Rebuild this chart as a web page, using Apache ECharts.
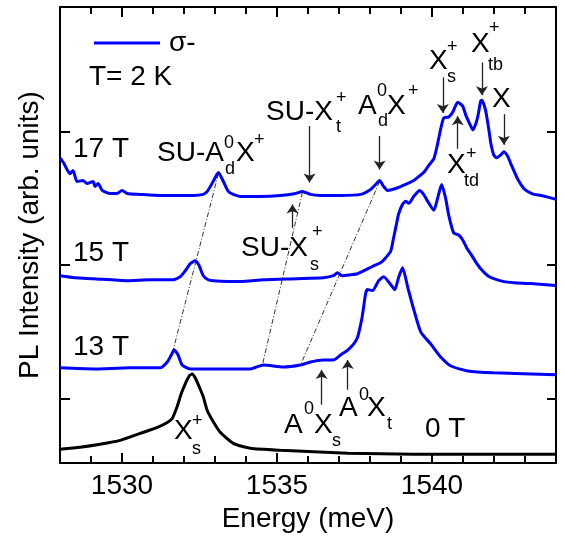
<!DOCTYPE html>
<html><head><meta charset="utf-8">
<script src="https://cdn.jsdelivr.net/npm/echarts@6/dist/echarts.min.js"></script>
<style>html,body{margin:0;padding:0;background:#fff}#c{width:565px;height:538px}</style>
</head><body><div id="c"></div>
<script>
// ---------- data (energy in meV, PL intensity in arb. units incl. vertical offsets) ----------
const xTickLabels = [1530, 1535, 1540];
const yTickValues = [0.48, 1.48, 2.48];

const energy17 = [1528.00,1528.13,1528.32,1528.42,1528.55,1528.74,1528.87,1529.07,1529.13,1529.23,1529.36,1529.62,1529.84,1530.00,1530.17,1530.59,1531.23,1531.88,1532.30,1532.62,1532.75,1532.94,1533.11,1533.27,1533.43,1533.59,1533.82,1534.46,1535.11,1535.60,1535.82,1536.08,1536.40,1537.05,1537.70,1538.02,1538.18,1538.31,1538.44,1538.57,1538.83,1539.15,1539.41,1539.57,1539.73,1539.89,1540.06,1540.18,1540.28,1540.38,1540.54,1540.67,1540.83,1540.99,1541.09,1541.22,1541.32,1541.41,1541.48,1541.57,1541.61,1541.67,1541.74,1541.83,1541.90,1541.99,1542.09,1542.22,1542.32,1542.45,1542.54,1542.67,1542.77,1542.96,1543.09,1543.29,1543.51,1543.77,1544.00];
const pl17 = [2.283,2.239,2.164,2.187,2.105,2.113,2.090,2.105,2.068,2.090,2.039,2.016,2.016,2.039,2.016,2.009,2.001,2.001,2.001,2.009,2.031,2.105,2.172,2.105,2.031,2.009,1.994,1.994,2.001,2.016,2.031,2.009,2.001,2.001,2.009,2.046,2.083,2.113,2.068,2.039,2.053,2.083,2.113,2.142,2.172,2.224,2.276,2.387,2.498,2.580,2.588,2.624,2.698,2.669,2.602,2.535,2.491,2.535,2.595,2.706,2.713,2.684,2.624,2.498,2.387,2.305,2.283,2.305,2.328,2.291,2.239,2.172,2.120,2.053,2.031,2.009,2.001,1.987,1.972];

const energy15 = [1528.00,1528.48,1529.07,1530.17,1530.91,1531.65,1531.88,1532.04,1532.20,1532.36,1532.49,1532.62,1532.78,1532.94,1533.82,1534.56,1535.66,1536.50,1536.82,1536.95,1537.11,1537.37,1537.60,1537.86,1538.12,1538.34,1538.50,1538.67,1538.76,1538.86,1538.92,1539.05,1539.15,1539.25,1539.41,1539.60,1539.73,1539.86,1540.06,1540.18,1540.31,1540.44,1540.54,1540.70,1540.86,1540.99,1541.12,1541.25,1541.41,1541.57,1541.80,1541.99,1542.32,1542.64,1543.19,1544.00];
const pl15 = [1.401,1.386,1.379,1.364,1.371,1.371,1.394,1.438,1.490,1.512,1.475,1.401,1.371,1.364,1.357,1.371,1.379,1.386,1.401,1.423,1.401,1.408,1.416,1.445,1.475,1.497,1.534,1.586,1.683,1.794,1.861,1.935,1.957,1.942,1.994,2.039,2.009,1.957,1.890,1.979,2.083,1.979,1.853,1.720,1.705,1.668,1.609,1.564,1.505,1.453,1.401,1.379,1.357,1.349,1.342,1.327];

const energy13 = [1528.00,1529.07,1530.26,1531.23,1531.46,1531.59,1531.68,1531.81,1531.94,1532.20,1534.14,1534.56,1535.21,1535.76,1536.08,1536.47,1536.82,1537.05,1537.28,1537.47,1537.60,1537.70,1537.76,1537.86,1537.92,1538.08,1538.28,1538.44,1538.67,1538.80,1538.92,1539.05,1539.22,1539.41,1539.64,1539.96,1540.28,1540.61,1541.15,1541.99,1544.00];
const pl13 = [0.712,0.704,0.712,0.712,0.756,0.808,0.845,0.808,0.734,0.704,0.704,0.734,0.719,0.734,0.756,0.771,0.771,0.808,0.845,0.890,0.941,1.038,1.112,1.268,1.297,1.290,1.364,1.394,1.334,1.297,1.386,1.460,1.312,1.149,0.979,0.890,0.793,0.726,0.689,0.675,0.660];

const energy0 = [1528.00,1528.65,1529.29,1529.94,1530.59,1531.14,1531.46,1531.62,1531.78,1531.91,1532.04,1532.17,1532.27,1532.36,1532.49,1532.62,1532.75,1532.94,1533.17,1533.59,1534.14,1535.11,1537.28,1539.41,1544.00];
const pl0 = [0.104,0.119,0.141,0.170,0.222,0.267,0.304,0.334,0.423,0.519,0.593,0.652,0.667,0.638,0.571,0.497,0.393,0.311,0.230,0.148,0.111,0.096,0.074,0.067,0.067];

// guide lines connecting peaks between spectra: [[E1,I1],[E2,I2]]
const guideLines = [
  [[1533.11, 2.164], [1531.65, 0.845]],
  [[1535.82, 2.024], [1534.53, 0.734]],
  [[1538.31, 2.105], [1535.76, 0.734]]
];
// arrows: energy, start intensity, tip intensity
const arrowE    = [1536.05, 1538.31, 1540.35, 1541.61, 1542.32, 1535.50, 1540.83, 1536.44, 1537.28];
const arrowFrom = [2.520,   2.446,   2.884,   2.995,   2.609,   1.757,   2.350,   0.437,   0.549];
const arrowTip  = [2.068,   2.165,   2.588,   2.721,   2.350,   1.964,   2.624,   0.726,   0.801];

// ---------- chart ----------
const FONT = '"Liberation Sans", Arial, Helvetica, sans-serif';
const M = 28, S = 18;
// annotation text pieces: [text, left x, middle y, size]
const textPieces = [
  ['17 T',73,149,M], ['15 T',73,253,M], ['13 T',73,347,M], ['0 T',425,429,M], ['T= 2 K',89,77,M],
  ['SU-A',157,153,M], ['0',224,143,S], ['d',225,169,S], ['X',236,153,M], ['+',254,140,S],
  ['SU-X',266,112,M], ['+',336,98,S], ['t',336,127,S],
  ['A',358,106,M], ['0',377,91,S], ['d',378,121,S], ['X',387,106,M], ['+',408,91,S],
  ['X',429,61,M], ['+',447,47,S], ['s',447,77,S],
  ['X',471,44,M], ['+',489,28,S], ['tb',488,65,S],
  ['X',492,99,M],
  ['X',447,165,M], ['+',466,154,S], ['td',464,181,S],
  ['SU-X',241,248,M], ['+',312,232,S], ['s',310,265,S],
  ['A',284,425,M], ['0',304,409,S], ['X',314,425,M], ['s',332,441,S],
  ['A',339,408,M], ['0',359,395,S], ['X',367,408,M], ['t',387,424,S],
  ['X',174,431,M], ['+',192,421,S], ['s',192,449,S]
];

function zip(a, b) { return a.map((x, i) => [x, b[i]]); }
const BLUE = '#0000ff';
function spec(name, xs, ys, color) {
  return { name, type: 'line', data: zip(xs, ys), showSymbol: false, symbol: 'none',
    smooth: 0.2, lineStyle: { color, width: 3 }, itemStyle: { color }, animation: false, z: 3 };
}
const s17 = spec('σ-', energy17, pl17, BLUE);
const s15 = spec('σ-', energy15, pl15, BLUE);
const s13 = spec('σ-', energy13, pl13, BLUE);
const s0 = spec('0 T', energy0, pl0, '#000');

s13.markLine = {
  silent: true, animation: false, symbol: ['none', 'none'], label: { show: false },
  lineStyle: { color: '#000', width: 0.8, type: [5, 2, 1, 2] },
  emphasis: { disabled: true },
  data: guideLines.map(g => [{ coord: g[0] }, { coord: g[1] }])
};
const back = 0.03;
s0.markLine = {
  silent: true, animation: false, symbol: ['none', 'arrow'], symbolSize: 9, label: { show: false },
  lineStyle: { color: '#222', width: 1.3, type: 'solid' },
  itemStyle: { color: '#222' },
  emphasis: { disabled: true },
  data: arrowE.map((e, i) => {
    const dir = arrowTip[i] > arrowFrom[i] ? 1 : -1;
    return [{ coord: [e, arrowFrom[i]], symbol: 'none' },
            { coord: [e, arrowTip[i] - dir * back], symbol: 'arrow', symbolSize: 9 }];
  })
};

const axisLineStyle = { color: '#000', width: 2 };
const baseX = { type: 'value', min: 1528, max: 1544, gridIndex: 0, splitLine: { show: false } };
const option = {
  backgroundColor: '#fff',
  animation: false,
  grid: { left: 60, right: 9, top: 7, bottom: 71, containLabel: false },
  legend: {
    data: ['σ-'], left: 89, top: 24, icon: 'rect', itemWidth: 66, itemHeight: 3,
    selectedMode: false,
    textStyle: { fontSize: M, fontFamily: FONT, color: '#000', padding: [0, 0, 0, 4] }
  },
  xAxis: [
    Object.assign({}, baseX, {
      position: 'bottom', name: 'Energy (meV)', nameLocation: 'middle', nameGap: 36,
      nameTextStyle: { fontSize: M, fontFamily: FONT, color: '#000' },
      axisLine: { show: true, lineStyle: axisLineStyle },
      axisTick: { show: true, inside: true, length: 10, customValues: xTickLabels, lineStyle: { color: '#000', width: 2 } },
      axisLabel: { show: true, customValues: xTickLabels, formatter: v => String(v),
        fontSize: M, fontFamily: FONT, color: '#000', margin: 9 }
    }),
    Object.assign({}, baseX, {
      position: 'bottom', interval: 1,
      axisLine: { show: false }, axisLabel: { show: false },
      axisTick: { show: true, inside: true, length: 7, lineStyle: { color: '#000', width: 2 } }
    }),
    Object.assign({}, baseX, {
      position: 'top', interval: 1,
      axisLine: { show: true, lineStyle: axisLineStyle }, axisLabel: { show: false },
      axisTick: { show: true, inside: true, length: 7, lineStyle: { color: '#000', width: 2 } }
    }),
    Object.assign({}, baseX, {
      position: 'top',
      axisLine: { show: false }, axisLabel: { show: false },
      axisTick: { show: true, inside: true, length: 10, customValues: xTickLabels, lineStyle: { color: '#000', width: 2 } }
    })
  ],
  yAxis: [
    {
      type: 'value', min: 0, max: 3.41, position: 'left', splitLine: { show: false },
      name: 'PL Intensity (arb. units)', nameLocation: 'middle', nameGap: 16,
      nameTextStyle: { fontSize: M, fontFamily: FONT, color: '#000' },
      axisLine: { show: true, lineStyle: axisLineStyle },
      axisTick: { show: true, inside: true, length: 10, customValues: yTickValues, lineStyle: { color: '#000', width: 2 } },
      axisLabel: { show: false }
    },
    {
      type: 'value', min: 0, max: 3.41, position: 'right', splitLine: { show: false },
      axisLine: { show: true, lineStyle: axisLineStyle },
      axisTick: { show: true, inside: true, length: 9, customValues: yTickValues, lineStyle: { color: '#000', width: 2 } },
      axisLabel: { show: false }
    }
  ],
  series: [s0, s13, s15, s17],
  graphic: textPieces.map(p => ({
    type: 'text', x: p[1], y: p[2], silent: true, z: 10,
    style: { text: p[0], font: p[3] + 'px ' + FONT, fill: '#000',
      align: 'left', verticalAlign: 'middle', textAlign: 'left', textVerticalAlign: 'middle' }
  }))
};
const chart = echarts.init(document.getElementById('c'));
chart.setOption(option);
</script></body></html>
